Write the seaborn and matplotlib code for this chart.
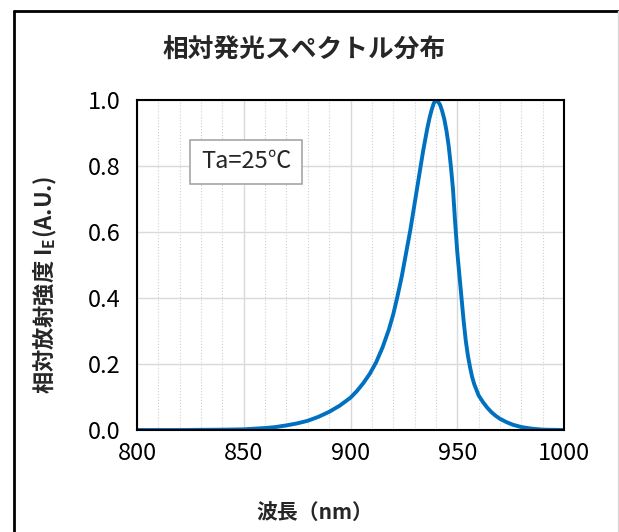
#!/usr/bin/env python3

import matplotlib
matplotlib.use('Agg')
import matplotlib.pyplot as plt
from matplotlib.lines import Line2D
from matplotlib.ticker import MultipleLocator
import pandas as pd
import seaborn as sns

SET_DPI = 100
FIGSIZE = (6.19, 5.32)

# wavelength (nm) and relative intensity
wavelength = [800, 820, 840, 850, 855, 860, 865, 870, 875, 880, 885, 890,
              895, 900, 903, 906, 909, 912, 915, 918, 920, 922, 924, 926,
              928, 930, 932, 934, 936, 937, 938, 939, 940, 941, 942, 943,
              944, 945, 946, 947, 948, 949, 950, 951, 952, 953, 954, 955,
              956, 957, 958, 960, 962, 964, 966, 968, 970, 973, 976, 980,
              985, 990, 1000]
intensity = [0.0, 0.0, 0.001, 0.002, 0.004, 0.006, 0.009, 0.014, 0.02,
             0.028, 0.04, 0.055, 0.074, 0.098, 0.118, 0.142, 0.17, 0.205,
             0.25, 0.305, 0.35, 0.405, 0.465, 0.535, 0.605, 0.685, 0.765,
             0.845, 0.915, 0.945, 0.97, 0.99, 1.0, 0.995, 0.985, 0.965,
             0.94, 0.905, 0.86, 0.8, 0.73, 0.63, 0.54, 0.47, 0.4, 0.33,
             0.27, 0.225, 0.19, 0.16, 0.138, 0.105, 0.085, 0.068, 0.054,
             0.043, 0.034, 0.024, 0.016, 0.009, 0.004, 0.001, 0.0]

x_ticks = [800, 850, 900, 950, 1000]
y_ticks = [0.0, 0.2, 0.4, 0.6, 0.8, 1.0]

title_text = '相対発光スペクトル分布'
xlabel_text = '波長（nm）'
ylabel_text = '相対放射強度 $\\mathregular{I_E}$(A.U.)'
note_text = 'Ta=25℃'

sns.set_theme(style='white')
plt.rcParams['font.family'] = ['Noto Sans CJK JP', 'DejaVu Sans']

data = pd.DataFrame({'nm': wavelength, 'ie': intensity})

fig = plt.figure(figsize=FIGSIZE, dpi=SET_DPI)
ax = fig.add_axes([137 / 619, 1 - 430 / 532, 427 / 619, 330 / 532])

sns.lineplot(data=data, x='nm', y='ie', ax=ax, color='#0070C0', linewidth=2.8)

ax.set_xlim(800, 1000)
ax.set_ylim(0, 1)
ax.set_xticks(x_ticks)
ax.set_yticks(y_ticks)
ax.set_yticklabels([f'{v:.1f}' for v in y_ticks])
ax.xaxis.set_minor_locator(MultipleLocator(10))
ax.grid(True, which='major', color='#D9D9D9', linewidth=1.0, linestyle='-')
ax.grid(True, which='minor', axis='x', color='#D0D0D0', linewidth=0.8, linestyle=':')
ax.set_axisbelow(True)
ax.tick_params(axis='both', which='both', length=0, labelsize=17, colors='black')
ax.tick_params(axis='x', pad=9)
ax.tick_params(axis='y', pad=12)
ax.set_xlabel('')
ax.set_ylabel('')
for sp in ax.spines.values():
    sp.set_color('black')
    sp.set_linewidth(1.5)
    sp.set_visible(True)

fig.text(304 / 619, 1 - 50 / 532, title_text, fontsize=18.5,
         fontweight='bold', ha='center', va='center')
fig.text(315 / 619, 1 - 513 / 532, xlabel_text, fontsize=15,
         fontweight='bold', ha='center', va='center')
fig.text(45 / 619, 1 - 285 / 532, ylabel_text, fontsize=16,
         fontweight='bold', rotation=90, ha='center', va='center')
fig.text(246 / 619, 1 - 162 / 532, note_text, fontsize=17,
         ha='center', va='center',
         bbox=dict(boxstyle='square,pad=0.45', facecolor='white',
                   edgecolor='#A6A6A6', linewidth=1.2))

# outer frame of the original picture
fig.add_artist(Line2D([14 / 619, 618 / 619], [1 - 11 / 532, 1 - 11 / 532],
                      color='black', linewidth=2))
fig.add_artist(Line2D([14 / 619, 14 / 619], [1 - 11 / 532, 0],
                      color='black', linewidth=2))
fig.add_artist(Line2D([618 / 619, 618 / 619], [1 - 11 / 532, 0],
                      color='#D9D9D9', linewidth=1))

fig.savefig('out.png', dpi=SET_DPI)
